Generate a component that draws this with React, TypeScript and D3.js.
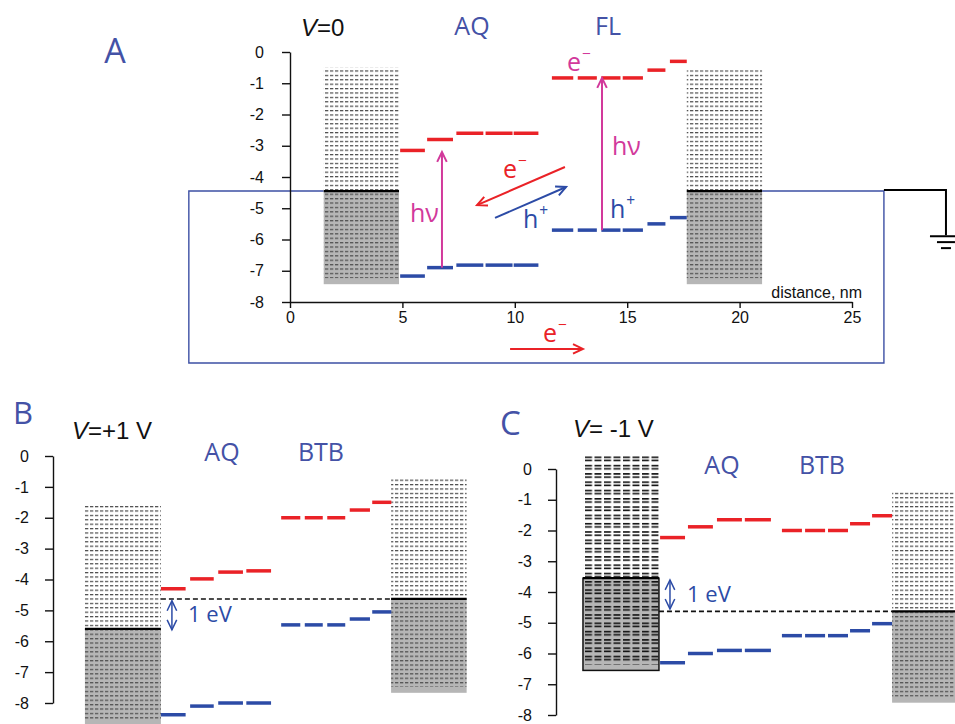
import React, { useEffect, useRef } from 'react'
import * as d3 from 'd3'

const W = 955
const H = 724

const RED = '#ea2227'
const BLUE = '#2c4ba6'
const WIRE = '#3d50a4'
const TITLE = '#4452a6'
const PINK = '#d2399b'
const GRAY = '#b6b6b6'
const AXIS_FONT = '"Liberation Sans", Arial, sans-serif'
const TEXT_FONT = '"Open Sans", Lato, sans-serif'

// energy axis (eV) and distance axis (nm)
const energyTicks = [0, -1, -2, -3, -4, -5, -6, -7, -8]
const distanceTicks = [0, 5, 10, 15, 20, 25]

// A: V = 0, AQ (5 units) + FL (6 units)
const segStartA = [4.9, 6.1, 7.4, 8.7, 9.95, 11.65, 12.8, 13.85, 14.8, 15.9, 16.9]
const segEndA = [6.0, 7.25, 8.6, 9.9, 11.05, 12.6, 13.65, 14.7, 15.7, 16.7, 17.65]
const lumoA = [-3.15, -2.8, -2.6, -2.6, -2.6, -0.83, -0.83, -0.83, -0.83, -0.58, -0.3]
const homoA = [-7.17, -6.9, -6.82, -6.82, -6.82, -5.7, -5.7, -5.7, -5.7, -5.5, -5.3]
const electrodesA = [
  { x0: 1.5, x1: 4.85, top: -0.5, fermi: -4.45, bottom: -7.43 },
  { x0: 17.65, x1: 21.0, top: -0.58, fermi: -4.45, bottom: -7.43 },
]

// B: V = +1 V, AQ (4 units) + BTB (5 units)
const segStartB = [4.8, 6.1, 7.35, 8.6, 10.15, 11.2, 12.2, 13.2, 14.2]
const segEndB = [5.9, 7.15, 8.45, 9.7, 11.0, 12.0, 13.0, 14.1, 15.05]
const lumoB = [-4.3, -3.98, -3.76, -3.72, -2.0, -2.0, -2.0, -1.75, -1.5]
const homoB = [-8.38, -8.1, -8.0, -8.0, -5.47, -5.47, -5.47, -5.28, -5.05]
const electrodesB = [
  { x0: 1.42, x1: 4.8, top: -1.62, fermi: -5.6, bottom: -8.75 },
  { x0: 15.04, x1: 18.4, top: -0.72, fermi: -4.63, bottom: -7.67 },
]

// C: V = -1 V
const segStartC = [4.63, 5.87, 7.16, 8.4, 10.05, 11.08, 12.1, 13.08, 14.06]
const segEndC = [5.74, 6.98, 8.27, 9.56, 10.94, 11.97, 12.99, 13.97, 14.95]
const lumoC = [-2.23, -1.88, -1.65, -1.65, -2.0, -2.0, -2.0, -1.78, -1.52]
const homoC = [-6.3, -6.0, -5.9, -5.9, -5.42, -5.42, -5.42, -5.26, -5.03]
const electrodesC = [
  { x0: 1.2, x1: 4.58, top: 0.45, fermi: -3.55, bottom: -6.55 },
  { x0: 14.95, x1: 18.4, top: -0.74, fermi: -4.63, bottom: -7.6 },
]

// arrows, in (nm, eV)
const arrowsA = [
  { kind: 'e', from: [12.23, -3.68], to: [8.32, -4.9] },
  { kind: 'h', from: [9.12, -5.31], to: [12.28, -4.32] },
  { kind: 'e', from: [9.79, -9.5], to: [13.03, -9.5] },
  { kind: 'hv', from: [6.76, -6.9], to: [6.76, -3.2] },
  { kind: 'hv', from: [13.88, -5.7], to: [13.88, -0.83] },
]
const gapArrowB = [5.29, -4.69, -5.63]
const gapArrowC = [5.07, -3.61, -4.55]

function arrow(g, x1, y1, x2, y2, color, width, both = false) {
  g.append('line').attr('x1', x1).attr('y1', y1).attr('x2', x2).attr('y2', y2)
    .attr('stroke', color).attr('stroke-width', width)
  const head = (tx, ty, fx, fy) => {
    const a = Math.atan2(ty - fy, tx - fx)
    const L = 11, s = 0.45
    const p = [
      [tx - L * Math.cos(a - s), ty - L * Math.sin(a - s)],
      [tx, ty],
      [tx - L * Math.cos(a + s), ty - L * Math.sin(a + s)],
    ]
    g.append('path').attr('d', d3.line()(p)).attr('fill', 'none')
      .attr('stroke', color).attr('stroke-width', width)
  }
  head(x2, y2, x1, y1)
  if (both) head(x1, y1, x2, y2)
}

function text(g, x, y, str, size, color, font = TEXT_FONT, anchor = 'start') {
  return g.append('text').attr('x', x).attr('y', y).text(str)
    .attr('font-size', size).attr('fill', color).attr('font-family', font)
    .attr('text-anchor', anchor)
}

function supText(g, x, y, base, sup, size, color) {
  const t = g.append('text').attr('x', x).attr('y', y)
    .attr('font-size', size).attr('fill', color).attr('font-family', TEXT_FONT)
  t.append('tspan').text(base)
  t.append('tspan').text(sup).attr('font-size', size * 0.62).attr('dy', -size * 0.5).attr('dx', 1)
}

function vLabel(g, x, y, rest) {
  const t = g.append('text').attr('x', x).attr('y', y)
    .attr('font-size', 24).attr('fill', '#111').attr('font-family', AXIS_FONT)
  t.append('tspan').text('V').attr('font-style', 'italic')
  t.append('tspan').text(rest)
}

function drawPanel(root, cfg) {
  const g = root.append('g')
  const x = d3.scaleLinear().domain([0, 25]).range(cfg.xRange)
  const y = d3.scaleLinear().domain([0, -8]).range(cfg.yRange)

  if (cfg.before) cfg.before(g, x, y)

  cfg.electrodes.forEach((e, i) => {
    const bold = cfg.boldLeft && i === 0
    const x0 = x(e.x0), w = x(e.x1) - x(e.x0)
    g.append('rect').attr('x', x0).attr('y', y(e.top)).attr('width', w)
      .attr('height', y(e.fermi) - y(e.top)).attr('fill', 'white')
    g.append('rect').attr('x', x0).attr('y', y(e.top)).attr('width', w)
      .attr('height', y(e.fermi) - y(e.top)).attr('fill', `url(#${bold ? 'hatchBold' : 'hatch'})`)
    g.append('rect').attr('x', x0).attr('y', y(e.fermi)).attr('width', w)
      .attr('height', y(e.bottom) - y(e.fermi)).attr('fill', GRAY)
      .attr('stroke', bold ? '#111' : 'none').attr('stroke-width', 1.5)
    g.append('rect').attr('x', x0).attr('y', y(e.fermi)).attr('width', w)
      .attr('height', Math.max(0, y(e.bottom) - y(e.fermi) - 6))
      .attr('fill', `url(#${bold ? 'hatchBold' : 'hatchDark'})`)
    g.append('line').attr('x1', x0).attr('x2', x0 + w)
      .attr('y1', y(e.fermi)).attr('y2', y(e.fermi))
      .attr('stroke', '#000').attr('stroke-width', 2.2)
  })

  if (cfg.dashed) {
    const [l, r] = cfg.electrodes
    g.append('line').attr('x1', x(l.x1)).attr('x2', x(r.x0))
      .attr('y1', y(r.fermi)).attr('y2', y(r.fermi))
      .attr('stroke', '#111').attr('stroke-width', 1.6).attr('stroke-dasharray', '5,3')
  }

  const idx = d3.range(cfg.starts.length)
  const lev = (vals, color) =>
    g.append('g').selectAll('line').data(idx).join('line')
      .attr('x1', i => x(cfg.starts[i])).attr('x2', i => x(cfg.ends[i]))
      .attr('y1', i => y(vals[i])).attr('y2', i => y(vals[i]))
      .attr('stroke', color).attr('stroke-width', 3.5)
  lev(cfg.lumo, RED)
  lev(cfg.homo, BLUE)

  const ax = g.append('g').attr('transform', `translate(${x(0)},0)`)
    .call(d3.axisLeft(y).tickValues(energyTicks).tickSize(8).tickPadding(cfg.yPad)
      .tickSizeOuter(0).tickFormat(d => String(d)))
  ax.attr('font-family', AXIS_FONT).attr('font-size', 16)
  ax.selectAll('path, line').attr('stroke', '#111').attr('stroke-width', 1.4)
  ax.selectAll('text').attr('fill', '#111')

  if (cfg.xAxis) {
    const bx = g.append('g').attr('transform', `translate(0,${y(-8)})`)
      .call(d3.axisBottom(x).tickValues(distanceTicks).tickSize(6).tickPadding(4)
        .tickSizeOuter(0))
    bx.attr('font-family', AXIS_FONT).attr('font-size', 16)
    bx.selectAll('path, line').attr('stroke', '#111').attr('stroke-width', 1.4)
    bx.selectAll('text').attr('fill', '#111')
  }

  if (cfg.after) cfg.after(g, x, y)
}

function draw(svgEl) {
  const svg = d3.select(svgEl)
  svg.selectAll('*').remove()
  const defs = svg.append('defs')
  const pattern = (id, w, h, bars, color, px = 0) => {
    const p = defs.append('pattern').attr('id', id).attr('patternUnits', 'userSpaceOnUse')
      .attr('width', w).attr('height', h).attr('x', px)
    bars.forEach(([by, dw, dh]) =>
      p.append('rect').attr('x', 0).attr('y', by).attr('width', dw).attr('height', dh).attr('fill', color))
  }
  pattern('hatch', 5, 4.4, [[0, 3.3, 1.2]], '#4a4a4a')
  pattern('hatchDark', 5, 4.4, [[0, 3.3, 1.3]], '#555')
  pattern('hatchBold', 9.5, 8.3, [[0, 7, 1.6], [3.2, 7, 1.6]], '#111', 585)

  // A
  drawPanel(svg, {
    xRange: [290, 852], yRange: [52, 302], yPad: 18, xAxis: true,
    starts: segStartA, ends: segEndA, lumo: lumoA, homo: homoA, electrodes: electrodesA,
    before: (g, x, y) => {
      const fy = y(electrodesA[0].fermi)
      g.append('path')
        .attr('d', `M${x(electrodesA[0].x0)},${fy}H${x(-4.5)}V${y(-9.95)}H${x(26.42)}V${fy}H${x(electrodesA[1].x1)}`)
        .attr('fill', 'none').attr('stroke', WIRE).attr('stroke-width', 1.4)
      const gx = x(29.18), gy = y(-5.86)
      g.append('path').attr('d', `M${x(26.42)},${fy - 1}H${gx}V${gy}`)
        .attr('fill', 'none').attr('stroke', '#000').attr('stroke-width', 2)
      ;[[16, 1], [9, 7], [5, 13]].forEach(([hw, dy]) =>
        g.append('line').attr('x1', gx - hw).attr('x2', gx + hw)
          .attr('y1', gy + dy).attr('y2', gy + dy).attr('stroke', '#000').attr('stroke-width', 2))
    },
    after: (g, x, y) => {
      arrowsA.forEach(a => {
        const c = a.kind === 'e' ? RED : a.kind === 'h' ? BLUE : PINK
        arrow(g, x(a.from[0]), y(a.from[1]), x(a.to[0]), y(a.to[1]), c, 2)
      })
      text(g, 115, 63, 'A', 34, TITLE, TEXT_FONT, 'middle')
      vLabel(g, 301, 36, '=0')
      text(g, 472, 35, 'AQ', 25, TITLE, TEXT_FONT, 'middle')
      text(g, 608, 35, 'FL', 25, TITLE, TEXT_FONT, 'middle')
      text(g, 862, 298, 'distance, nm', 16, '#111', AXIS_FONT, 'end')
      text(g, 410, 222, 'hν', 25, PINK)
      text(g, 612, 155, 'hν', 25, PINK)
      supText(g, 503, 178, 'e', '−', 25, RED)
      supText(g, 523, 228, 'h', '+', 25, BLUE)
      supText(g, 543, 342, 'e', '−', 25, RED)
      supText(g, 567, 71, 'e', '−', 25, PINK)
      supText(g, 610, 218, 'h', '+', 25, BLUE)
    },
  })

  // B
  drawPanel(svg, {
    xRange: [53, 615], yRange: [456, 703], yPad: 16, dashed: true,
    starts: segStartB, ends: segEndB, lumo: lumoB, homo: homoB, electrodes: electrodesB,
    after: (g, x, y) => {
      arrow(g, x(gapArrowB[0]), y(gapArrowB[1]), x(gapArrowB[0]), y(gapArrowB[2]), BLUE, 1.5, true)
      text(g, 188, 622, '1 eV', 22, BLUE)
      text(g, 13, 424, 'B', 31, TITLE)
      vLabel(g, 72, 439, '=+1 V')
      text(g, 222, 461, 'AQ', 25, TITLE, TEXT_FONT, 'middle')
      text(g, 321, 461, 'BTB', 25, TITLE, TEXT_FONT, 'middle')
    },
  })

  // C
  drawPanel(svg, {
    xRange: [556, 1118], yRange: [469, 715], yPad: 16, dashed: true, boldLeft: true,
    starts: segStartC, ends: segEndC, lumo: lumoC, homo: homoC, electrodes: electrodesC,
    after: (g, x, y) => {
      arrow(g, x(gapArrowC[0]), y(gapArrowC[1]), x(gapArrowC[0]), y(gapArrowC[2]), BLUE, 1.5, true)
      text(g, 687, 602, '1 eV', 22, BLUE)
      text(g, 500, 435, 'C', 33, TITLE)
      vLabel(g, 573, 437, '= -1 V')
      text(g, 722, 474, 'AQ', 25, TITLE, TEXT_FONT, 'middle')
      text(g, 822, 474, 'BTB', 25, TITLE, TEXT_FONT, 'middle')
    },
  })
}

export default function App() {
  const ref = useRef<SVGSVGElement>(null)
  useEffect(() => {
    draw(ref.current)
  }, [])
  return (
    <svg ref={ref} width={W} height={H}
      style={{ position: 'absolute', left: 0, top: 0, background: 'white' }} />
  )
}
